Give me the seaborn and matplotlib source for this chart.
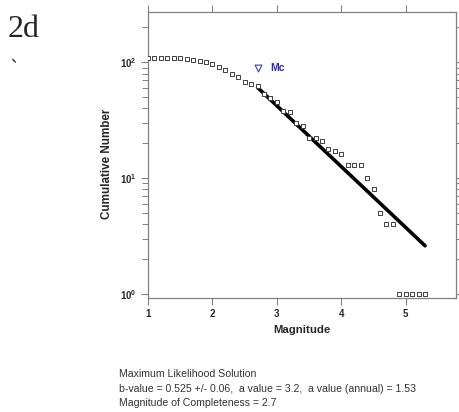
import numpy as np
import pandas as pd
import seaborn as sns
from matplotlib import pyplot as plt

# cumulative frequency-magnitude distribution
magnitude = [1.0, 1.1, 1.2, 1.3, 1.4, 1.5, 1.6, 1.7, 1.8, 1.9,
             2.0, 2.1, 2.2, 2.3, 2.4, 2.5, 2.6, 2.7, 2.8, 2.9,
             3.0, 3.1, 3.2, 3.3, 3.4, 3.5, 3.6, 3.7, 3.8, 3.9,
             4.0, 4.1, 4.2, 4.3, 4.4, 4.5, 4.6, 4.7, 4.8, 4.9,
             5.0, 5.1, 5.2, 5.3]
cum_number = [108, 108, 108, 108, 108, 108, 106, 105, 103, 100,
              96, 91, 85, 80, 74, 67, 65, 62, 53, 49,
              45, 38, 37, 30, 28, 22, 22, 21, 18, 17,
              16, 13, 13, 13, 10, 8, 5, 4, 4, 1,
              1, 1, 1, 1]

# maximum likelihood fit line (end points)
fit_mag = [2.7, 5.3]
fit_number = [60.6, 2.6]

# magnitude of completeness marker
mc_mag = [2.7]
mc_number = [89]

xticks = [1, 2, 3, 4, 5]
yticks = [1, 10, 100]
ytick_labels = [r'$\mathbf{10^{0}}$', r'$\mathbf{10^{1}}$', r'$\mathbf{10^{2}}$']

info_lines = ["Maximum Likelihood Solution",
              "b-value = 0.525 +/- 0.06,  a value = 3.2,  a value (annual) = 1.53",
              "Magnitude of Completeness = 2.7"]

sns.set_style("white")
plt.rcParams['font.family'] = ['Liberation Sans', 'DejaVu Sans']
plt.rcParams['mathtext.fontset'] = 'custom'
plt.rcParams['mathtext.bf'] = 'Liberation Sans:bold'
plt.rcParams['mathtext.rm'] = 'Liberation Sans'

df = pd.DataFrame({'mag': magnitude, 'n': cum_number})
fit_df = pd.DataFrame({'mag': fit_mag, 'n': fit_number})

fig = plt.figure(figsize=(4.6, 4.12), dpi=100)
ax = fig.add_axes([148/460, 1 - 298/412, 308/460, 286/412])

sns.lineplot(data=fit_df, x='mag', y='n', color='black', linewidth=2.6, ax=ax)
sns.scatterplot(data=df, x='mag', y='n', marker='s', s=11, facecolor='white',
                edgecolor='#404040', linewidth=0.7, ax=ax, zorder=3)
ax.scatter(mc_mag, mc_number, marker='v', s=24, facecolor='white',
           edgecolor='#4040b0', linewidth=0.8, zorder=3)
ax.text(2.9, mc_number[0], 'Mc', color='#2a2ab8', fontsize=7.5,
        fontweight='bold', va='center')

ax.set_yscale('log')
ax.set_xlim(1, 5.78)
ax.set_ylim(0.92, 272)
ax.set_xticks(xticks)
ax.set_xticklabels([str(t) for t in xticks], fontweight='bold', fontsize=7)
ax.set_yticks(yticks)
ax.set_yticklabels(ytick_labels, fontsize=7)

for side in ['left', 'right', 'top', 'bottom']:
    ax.spines[side].set_visible(True)
    ax.spines[side].set_color('#808080')
    ax.spines[side].set_linewidth(0.9)

ax.tick_params(axis='both', which='both', direction='out', color='#808080',
               top=True, right=True, bottom=True, left=True,
               labeltop=False, labelright=False)
ax.tick_params(axis='both', which='major', length=5, width=0.8, pad=3)
ax.tick_params(axis='y', which='minor', length=4, width=0.7)

ax.set_xlabel('Magnitude', fontsize=8.2, fontweight='bold')
ax.set_ylabel('Cumulative Number', fontsize=8.4, fontweight='bold')
ax.xaxis.set_label_coords(0.5, -27/286)
ax.yaxis.set_label_coords(-35/308, 0.47)

fig.text(8/460, 1 - 37/412, '2d', family='Liberation Serif', fontsize=23,
         va='baseline')
fig.text(10/460, 1 - 62/412, '、', family=['Noto Sans CJK SC', 'DejaVu Sans'],
         fontsize=11, va='baseline')

for i, line in enumerate(info_lines):
    fig.text(119/460, 1 - (374 + 14.5*i)/412, line, fontsize=7.6,
             color='#333333', va='center')

fig.savefig('out.png', dpi=100)
